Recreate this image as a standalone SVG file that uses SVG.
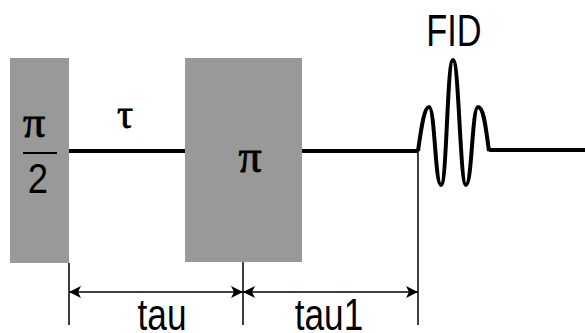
<svg xmlns="http://www.w3.org/2000/svg" width="585" height="333" viewBox="0 0 585 333">
<style>
.pulse{fill:#999999}
.wire{fill:none;stroke:#000;stroke-width:4}
.dim{fill:none;stroke:#000;stroke-width:1.5}
.sans{font-family:"Liberation Sans",Arial,sans-serif;fill:#000}
.serif{font-family:"Liberation Serif","Times New Roman",serif;fill:#000;stroke:#000;stroke-width:0.8}
</style>
<defs>
<marker id="ah" viewBox="0 0 12 12" refX="12" refY="6" markerWidth="12" markerHeight="12" markerUnits="userSpaceOnUse" orient="auto-start-reverse">
<path d="M0,0 L12,6 L0,12 L3,6 z" fill="#000"/>
</marker>
</defs>
<g id="pulse90">
<rect class="pulse" x="10" y="58" width="59" height="205"/>
<text class="serif" x="34" y="137" font-size="44" text-anchor="middle">π</text>
<line x1="23" y1="153" x2="57" y2="153" stroke="#000" stroke-width="2"/>
<text class="sans" x="38" y="193" font-size="43" text-anchor="middle" transform="translate(38 0) scale(0.85 1) translate(-38 0)">2</text>
</g>
<g id="pulse180">
<rect class="pulse" x="185" y="58" width="117" height="204"/>
<text class="serif" x="250" y="172" font-size="46" text-anchor="middle">π</text>
</g>
<g id="tau-label">
<text class="serif" x="125" y="128" font-size="40" text-anchor="middle">τ</text>
</g>
<g id="fid">
<text class="sans" x="454" y="46" font-size="44" text-anchor="middle" transform="translate(454 0) scale(0.78 1) translate(-454 0)">FID</text>
</g>
<g id="connectors">
<path class="wire" d="M69,151 H185 M302,151 H418"/>
<path class="wire" d="M418,151 C421,130 424,107 429,107 C435,107 435,185 441,185 C447,185 447,60 453,60 C459,60 460,185 466,185 C472,185 472,107 478,107 C484,107 486,130 489,151 L489,150 H585"/>
<path class="dim" d="M69,263 V325 M243,262 V325 M418,151 V325"/>
<line class="dim" x1="69" y1="292" x2="243" y2="292" marker-start="url(#ah)" marker-end="url(#ah)"/>
<line class="dim" x1="243" y1="292" x2="418" y2="292" marker-start="url(#ah)" marker-end="url(#ah)"/>
</g>
<g id="dim-labels">
<text class="sans" x="162" y="330" font-size="44" text-anchor="middle" transform="translate(162 0) scale(0.8 1) translate(-162 0)">tau</text>
<text class="sans" x="329" y="330" font-size="44" text-anchor="middle" transform="translate(329 0) scale(0.8 1) translate(-329 0)">tau1</text>
</g>
</svg>
